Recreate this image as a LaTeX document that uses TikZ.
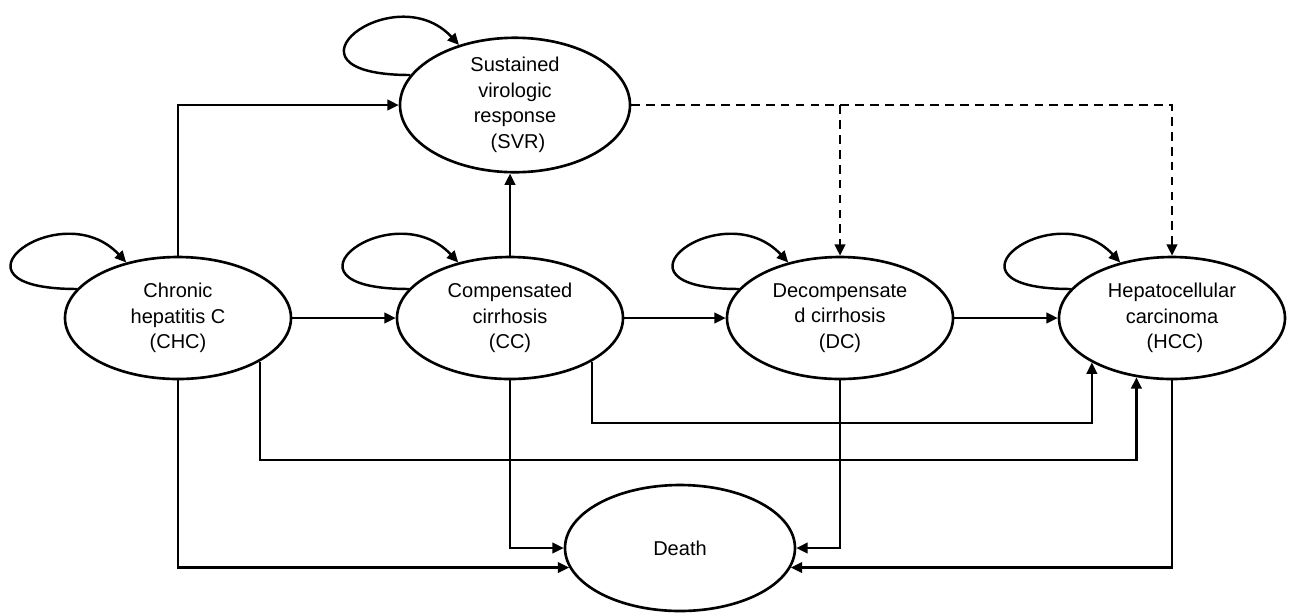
\documentclass[tikz,border=0pt]{standalone}
\usepackage{fontspec}
\setmainfont{Liberation Sans}
\usetikzlibrary{arrows.meta,shapes.geometric}
\tikzset{
  state/.style={draw, ellipse, line width=1.5pt, minimum width=226*0.02cm, minimum height=122*0.02cm, inner sep=0pt, align=center, font=\fontsize{11.4}{14.5}\selectfont},
  conn/.style={line width=1.4pt, -{Triangle[length=6.5pt,width=6pt]}},
  dconn/.style={conn, dash pattern=on 5pt off 3.5pt},
}
\begin{document}
\begin{tikzpicture}[x=0.02cm,y=-0.02cm]
\useasboundingbox (0,0) rectangle (1292,613);
\node[state, minimum width=230*0.02cm, minimum height=124*0.02cm] (svr) at (515,105) {Sustained\\virologic\\response\\\hspace*{0.3em}(SVR)};
\node[state] (chc) at (178,318) {Chronic\\hepatitis C\\(CHC)};
\node[state] (cc) at (510,318) {Compensated\\cirrhosis\\(CC)};
\node[state] (dc) at (840,318) {Decompensate\\d cirrhosis\\(DC)};
\node[state] (hcc) at (1172,318) {Hepatocellular\\carcinoma\\\hspace*{0.3em}(HCC)};
\node[state, minimum width=230*0.02cm, minimum height=126*0.02cm] (death) at (680,548) {Death};
\coordinate (lowA) at (0,460);
\coordinate (lowB) at (0,423);
% self loops
\foreach \n in {svr,chc,cc,dc,hcc}
  \draw[conn] (\n.164) .. controls +(-145,0) and +(-65,-70) .. (\n.133);
% upper connectors
\draw[conn] (chc.north) |- (svr.west);
\draw[conn] (cc.north) -- (cc.north |- svr.south);
\draw[dconn] (svr.east) -- (hcc.north |- svr.east) -- (hcc.north);
\draw[dconn] (dc.north |- svr.east) -- (dc.north);
% horizontal chain
\draw[conn] (chc.east) -- (cc.west);
\draw[conn] (cc.east) -- (dc.west);
\draw[conn] (dc.east) -- (hcc.west);
% to HCC from below
\draw[conn] (chc.332) -- (chc.332 |- lowA) -- (hcc.239 |- lowA) -- (hcc.239);
\draw[conn] (cc.332) -- (cc.332 |- lowB) -- (hcc.209 |- lowB) -- (hcc.209);
% to death
\draw[conn] (chc.south) |- (death.190);
\draw[conn] (cc.south) |- (death.west);
\draw[conn] (dc.south) |- (death.east);
\draw[conn] (hcc.south) |- (death.350);
\end{tikzpicture}
\end{document}
